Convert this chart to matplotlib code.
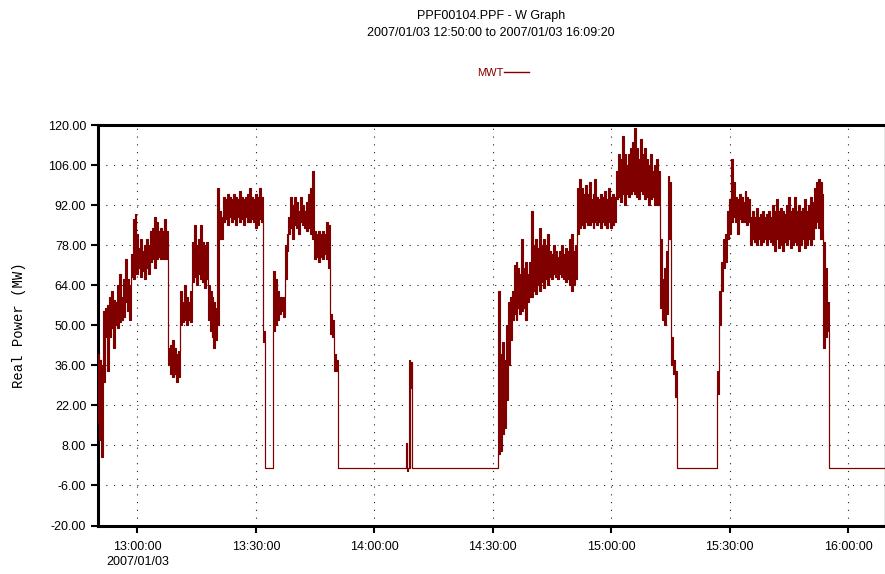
import numpy as np
import matplotlib
matplotlib.use("Agg")
import matplotlib.pyplot as plt
from matplotlib.lines import Line2D
from matplotlib.ticker import FuncFormatter

# ---------------- data ----------------
title_line1 = "PPF00104.PPF - W Graph"
title_line2 = "2007/01/03 12:50:00 to 2007/01/03 16:09:20"
series_name = "MWT"
y_label = "Real Power (MW)"
start_time = "2007-01-03T12:50:00"
end_minute = 199 + 20 / 60          # 16:09:20
y_ticks = [-20, -6, 8, 22, 36, 50, 64, 78, 92, 106, 120]
x_tick_labels = ["13:00:00", "13:30:00", "14:00:00", "14:30:00",
                 "15:00:00", "15:30:00", "16:00:00"]
date_label = "2007/01/03"

# noisy segments: start minute (from 12:50:00), sample step (min), upper and lower envelope (MW)
seg1_start, seg1_step = 0.0, 0.5
seg1_hi = [40, 38, 36, 55, 56, 57, 60, 62, 59, 58, 64, 68, 60, 66, 73, 66, 64, 75, 87, 89,
           82, 77, 80, 76, 78, 80, 78, 83, 84, 88, 86, 83, 84, 83, 87, 83, 42, 43, 45, 42,
           40, 41, 62, 58, 64, 60, 58, 62, 79, 85, 78, 80, 85, 79, 78, 79, 64, 62, 60, 58,
           56, 98, 90, 88, 95, 94, 96, 95, 94, 96, 95, 94, 97, 95, 94, 95, 96, 98, 95, 94,
           96, 95, 98, 95, 48, 0, 0, 0, 0, 69, 66, 62, 60, 60, 60, 78, 82, 88, 95, 92,
           95, 93, 90, 95, 92, 90, 93, 96, 98, 104, 83, 82, 83, 82, 83, 82, 86, 85, 54, 52,
           40, 38, 0]
seg1_lo = [16, 10, 4, 30, 46, 34, 46, 49, 42, 50, 49, 51, 52, 53, 58, 55, 52, 67, 66, 68,
           68, 70, 67, 69, 66, 70, 68, 72, 73, 70, 73, 74, 73, 73, 73, 73, 36, 33, 32, 33,
           30, 32, 50, 51, 52, 50, 52, 51, 65, 67, 64, 68, 66, 65, 63, 66, 52, 48, 46, 42,
           45, 50, 80, 80, 86, 87, 85, 88, 86, 87, 85, 88, 86, 87, 85, 88, 86, 86, 87, 86,
           84, 85, 87, 86, 44, 0, 0, 0, 0, 48, 50, 52, 54, 55, 53, 66, 76, 82, 84, 80,
           85, 84, 82, 86, 85, 84, 83, 84, 82, 80, 73, 74, 72, 74, 73, 75, 73, 70, 47, 46,
           34, 34, 0]

seg2_start, seg2_step = 78.0, 0.25
seg2_hi = [0, 9, 0, 0, 38, 37, 37, 0]
seg2_lo = [0, 0, -1, 0, 0, 28, 29, 0]

seg3_start, seg3_step = 101.0, 0.5
seg3_hi = [0, 62, 40, 44, 38, 50, 58, 60, 62, 71, 72, 70, 68, 80, 70, 72, 68, 72, 90, 78,
           80, 77, 84, 78, 80, 78, 82, 76, 75, 78, 76, 74, 76, 78, 75, 77, 76, 80, 82, 76,
           78, 98, 101, 98, 96, 99, 96, 100, 94, 96, 101, 95, 94, 96, 95, 97, 94, 98, 95, 96,
           95, 104, 110, 108, 116, 110, 106, 110, 112, 114, 119, 112, 108, 115, 110, 112, 108, 106, 110, 104,
           106, 108, 104, 80, 66, 70, 76, 102, 100, 46, 38, 34, 0]
seg3_lo = [0, 5, 6, 12, 14, 24, 36, 45, 52, 54, 52, 56, 54, 55, 56, 52, 58, 60, 60, 62,
           61, 64, 62, 65, 63, 66, 64, 67, 66, 68, 67, 66, 68, 67, 66, 65, 66, 64, 62, 64,
           66, 82, 84, 85, 84, 86, 85, 85, 86, 84, 86, 85, 86, 84, 86, 85, 84, 86, 84, 85,
           86, 94, 95, 93, 96, 92, 96, 95, 96, 97, 96, 95, 94, 97, 96, 94, 95, 92, 94, 95,
           92, 92, 92, 56, 52, 50, 54, 80, 80, 36, 33, 25, 0]

seg4_start, seg4_step = 156.5, 0.5
seg4_hi = [0, 34, 62, 72, 80, 82, 90, 94, 108, 100, 95, 94, 96, 95, 93, 97, 95, 94, 88, 90,
           88, 91, 88, 89, 90, 88, 89, 90, 88, 92, 90, 94, 90, 91, 90, 89, 92, 95, 90, 91,
           95, 90, 92, 90, 91, 94, 90, 92, 95, 93, 98, 100, 101, 100, 96, 79, 70, 58, 0]
seg4_lo = [0, 26, 50, 62, 70, 72, 80, 82, 86, 88, 86, 82, 87, 86, 86, 87, 85, 86, 78, 80,
           79, 78, 80, 78, 79, 80, 78, 80, 79, 78, 76, 80, 77, 78, 76, 79, 78, 80, 77, 78,
           79, 78, 76, 78, 80, 77, 78, 80, 78, 80, 84, 86, 84, 80, 82, 42, 46, 48, 0]

tail_minutes = [end_minute]
tail_values = [0]

# ---------------- assemble ----------------
segments = [(seg1_start, seg1_step, seg1_hi, seg1_lo),
            (seg2_start, seg2_step, seg2_hi, seg2_lo),
            (seg3_start, seg3_step, seg3_hi, seg3_lo),
            (seg4_start, seg4_step, seg4_hi, seg4_lo)]
mins, his, los = [], [], []
for s0, st, hi, lo in segments:
    n = len(hi)
    mins.extend(s0 + st * np.arange(n))
    his.extend(hi)
    los.extend(lo[:n])
mins.extend(tail_minutes)
his.extend(tail_values)
los.extend(tail_values)

base = np.datetime64(start_time, "s")
t = base + (np.array(mins) * 60).round().astype("timedelta64[s]")
hi = np.array(his, dtype=float)
lo = np.array(los, dtype=float)

# ---------------- figure ----------------
C = "#800000"
plt.rcParams["font.family"] = ["Liberation Sans", "DejaVu Sans"]

fig = plt.figure(figsize=(8.85, 5.74), dpi=100)
ax = fig.add_axes([98 / 885, 48.5 / 574, 1 - 98 / 885, 400.5 / 574])

ax.fill_between(t, lo, hi, color=C, lw=0, step="mid", zorder=3)
ax.vlines(t, lo, hi, color=C, lw=0.8, zorder=3)
ax.plot(t, hi, color=C, lw=0.8, drawstyle="steps-mid", zorder=3)
ax.plot(t, lo, color=C, lw=0.8, drawstyle="steps-mid", zorder=3)

ax.set_ylim(-20, 120)
ax.set_yticks(y_ticks)
ax.yaxis.set_major_formatter(FuncFormatter(lambda v, p: f"{v:.2f}"))

xt = [np.datetime64("2007-01-03T" + s) for s in x_tick_labels]
ax.set_xlim(base, base + np.timedelta64(int(round(end_minute * 60)), "s"))
ax.set_xticks(xt)
labels = [x_tick_labels[0] + "\n" + date_label] + x_tick_labels[1:]
ax.set_xticklabels(labels, linespacing=1.35)

ax.grid(True, color="#222222", lw=0.8, linestyle=(0, (1, 6.0)))
ax.tick_params(axis="both", labelsize=9, width=1.5, length=5, colors="black")
ax.tick_params(axis="x", pad=6)
for s in ["left", "bottom", "top"]:
    ax.spines[s].set_linewidth(2.2)
ax.spines["right"].set_linewidth(1.0)
ax.spines["right"].set_color("#888888")

ax.set_ylabel(y_label, family=["Liberation Mono", "DejaVu Sans Mono"], fontsize=10)
ax.yaxis.set_label_coords(-0.0915, 0.5)

fig.text(0.555, 1 - 16 / 574, title_line1, ha="center", va="center", fontsize=9)
fig.text(0.555, 1 - 33 / 574, title_line2, ha="center", va="center", fontsize=9)

fig.legend(handles=[Line2D([], [], color=C, lw=1)], labels=[series_name],
           loc="center", bbox_to_anchor=(0.568, 0.873), frameon=False,
           markerfirst=False, handlelength=2.2, handletextpad=0.1,
           prop={"size": 8}, labelcolor=C)

fig.savefig("out.png", dpi=100)
